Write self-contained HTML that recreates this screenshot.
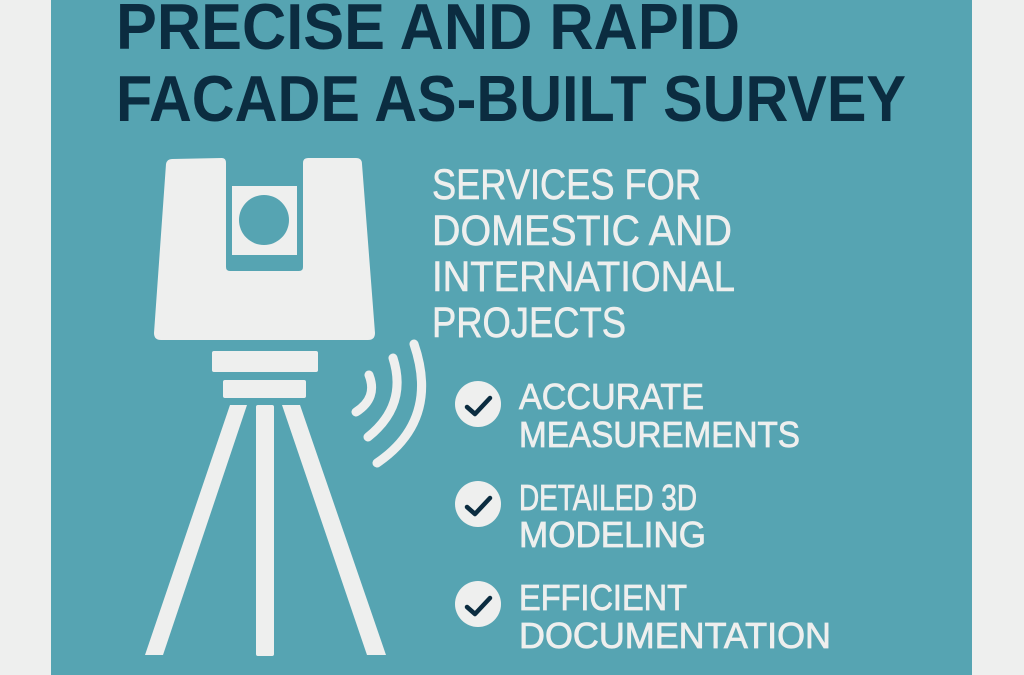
<!DOCTYPE html>
<html><head><meta charset="utf-8"><style>
html,body{margin:0;padding:0;background:#eeefee;}
svg{display:block}
text{font-family:"Liberation Sans",sans-serif;}
</style></head><body>
<svg width="1024" height="675" viewBox="0 0 1024 675" xmlns="http://www.w3.org/2000/svg">
<rect x="0" y="0" width="1024" height="675" fill="#eeefee"/>
<rect x="51" y="0" width="921" height="675" fill="#56a4b2"/>
<g fill="#0b2c40" font-weight="bold" font-size="65">
<text x="116" y="49" textLength="624" lengthAdjust="spacingAndGlyphs">PRECISE AND RAPID</text>
<text x="116" y="121" textLength="790" lengthAdjust="spacingAndGlyphs">FACADE AS-BUILT SURVEY</text>
</g>
<!-- scanner body -->
<path d="M172 159 L222 158 Q226 158 226 163 L226 267 Q226 271 230 271 L299 271 Q303 271 303 267 L303 163 Q303 158 308 158 L356 158 Q362 158 362 164 L375 333 Q375 340 368 340 L161 340 Q154 340 154 333 L166 164 Q167 159 172 159 Z" fill="#eeefee"/>
<rect x="232" y="186" width="65" height="69" fill="#eeefee"/>
<circle cx="264" cy="220" r="25" fill="#56a4b2"/>
<rect x="212" y="351" width="106" height="21" rx="2" fill="#eeefee"/>
<rect x="223" y="380" width="83" height="18" rx="2" fill="#eeefee"/>
<path d="M230 405 L247 405 L163 655 L145 655 Z" fill="#eeefee"/>
<rect x="256" y="405" width="18" height="251" rx="2" fill="#eeefee"/>
<path d="M282 405 L300 405 L386 655 L367 655 Z" fill="#eeefee"/>
<g fill="none" stroke="#eeefee" stroke-width="9" stroke-linecap="round">
<path d="M369 375 Q378 398 356 412"/>
<path d="M393 358 Q408 405 368 437"/>
<path d="M414 344 Q440 420 377 463"/>
</g>
<g fill="#eeefee" font-size="43">
<text x="432" y="199" textLength="269" lengthAdjust="spacingAndGlyphs" stroke="#eeefee" stroke-width="0.6">SERVICES FOR</text>
<text x="432" y="245" textLength="300" lengthAdjust="spacingAndGlyphs" stroke="#eeefee" stroke-width="0.6">DOMESTIC AND</text>
<text x="432" y="291" textLength="303" lengthAdjust="spacingAndGlyphs" stroke="#eeefee" stroke-width="0.6">INTERNATIONAL</text>
<text x="432" y="337" textLength="194" lengthAdjust="spacingAndGlyphs" stroke="#eeefee" stroke-width="0.6">PROJECTS</text>
</g>
<g fill="#eeefee" font-size="36" stroke="#eeefee" stroke-width="0.8">
<text x="519" y="409" textLength="185" lengthAdjust="spacingAndGlyphs">ACCURATE</text>
<text x="519" y="447" textLength="281" lengthAdjust="spacingAndGlyphs">MEASUREMENTS</text>
<text x="519" y="510" textLength="178" lengthAdjust="spacingAndGlyphs">DETAILED 3D</text>
<text x="519" y="547" textLength="187" lengthAdjust="spacingAndGlyphs">MODELING</text>
<text x="519" y="610" textLength="168" lengthAdjust="spacingAndGlyphs">EFFICIENT</text>
<text x="519" y="648" textLength="312" lengthAdjust="spacingAndGlyphs">DOCUMENTATION</text>
</g>
<g>
<circle cx="478" cy="404" r="23" fill="#eeefee"/>
<circle cx="478" cy="504" r="23" fill="#eeefee"/>
<circle cx="478" cy="604" r="23" fill="#eeefee"/>
<g fill="none" stroke="#0b2c40" stroke-width="4.5" stroke-linecap="round" stroke-linejoin="round">
<path d="M467 407 L475 414 L490 398"/>
<path d="M467 507 L475 514 L490 498"/>
<path d="M467 607 L475 614 L490 598"/>
</g>
</g>
</svg>
</body></html>
